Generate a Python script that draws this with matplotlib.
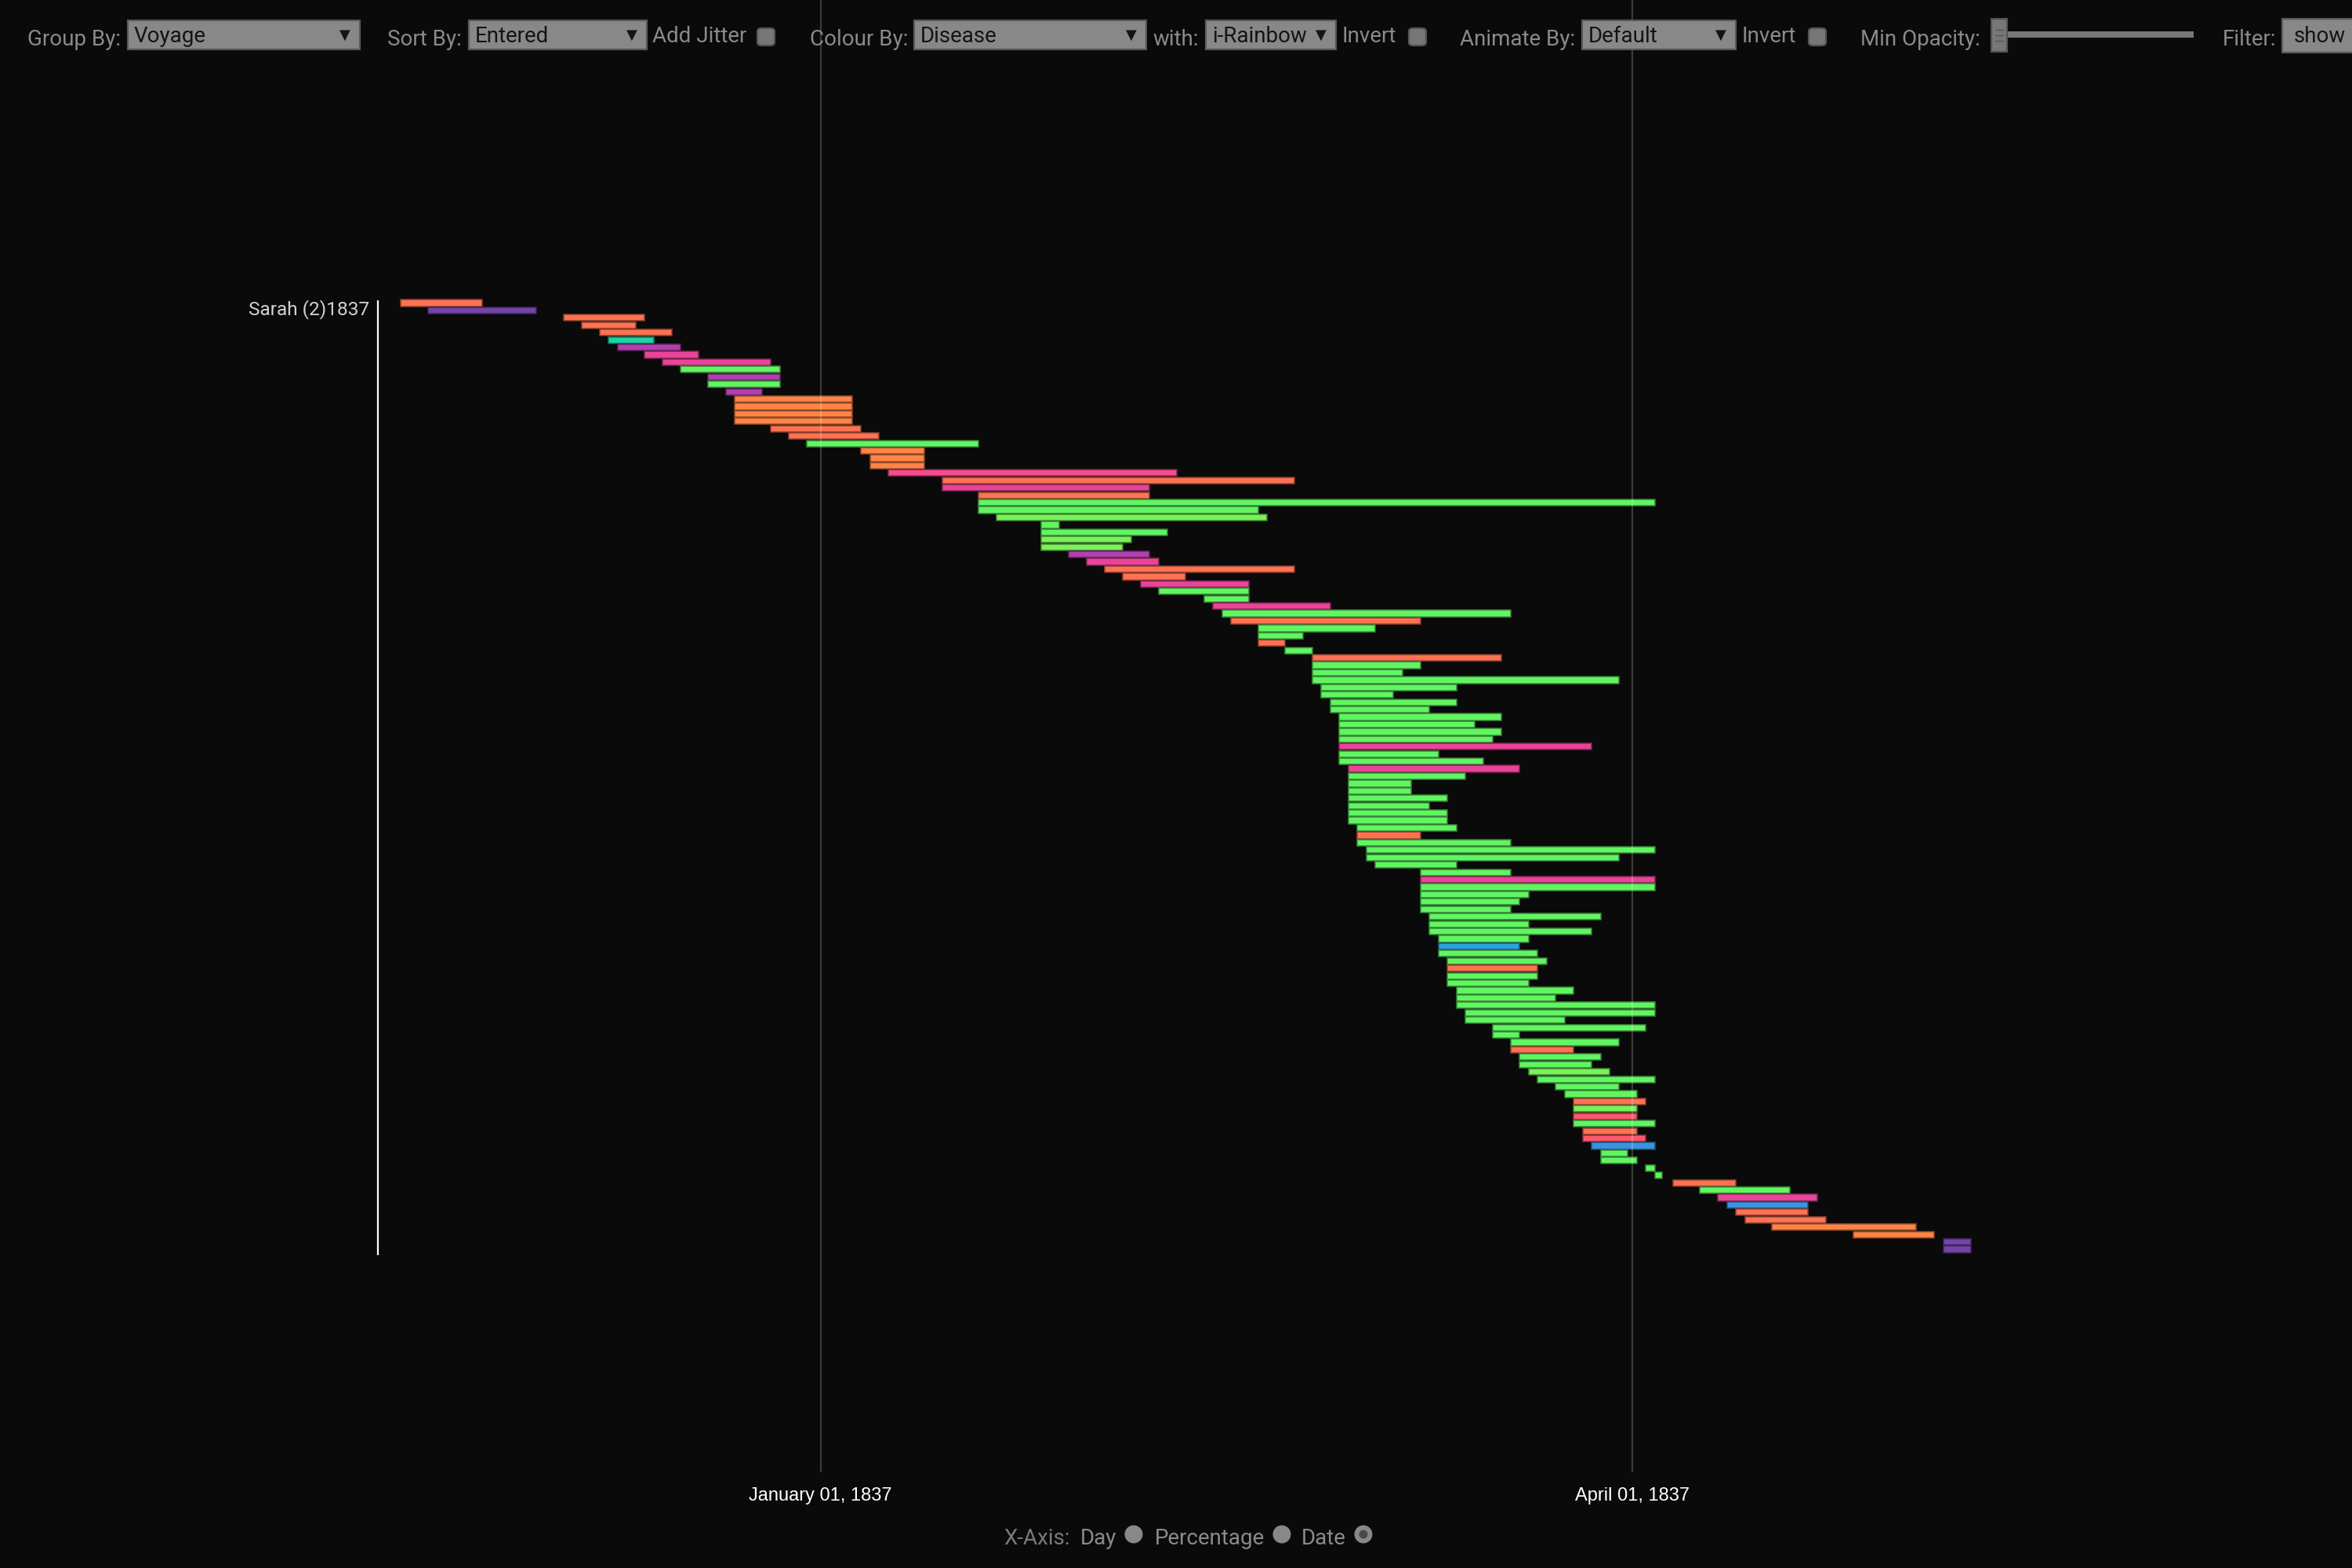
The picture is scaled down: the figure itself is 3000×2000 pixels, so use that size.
import numpy as np
import matplotlib.pyplot as plt
import matplotlib.colors as mcolors
from matplotlib.patches import Rectangle, FancyBboxPatch, Ellipse

# stays on board for voyage "Sarah (2)1837", days counted from 1 January 1837
starts = [-46.5, -43.5, -28.5, -26.5, -24.5, -23.5, -22.5, -19.5, -17.5, -15.5,
          -12.5, -12.5, -10.5, -9.5, -9.5, -9.5, -9.5, -5.5, -3.5, -1.5,
          4.5, 5.5, 5.5, 7.5, 13.5, 13.5, 17.5, 17.5, 17.5, 19.5,
          24.5, 24.5, 24.5, 24.5, 27.5, 29.5, 31.5, 33.5, 35.5, 37.5,
          42.5, 43.5, 44.5, 45.5, 48.5, 48.5, 48.5, 51.5, 54.5, 54.5,
          54.5, 54.5, 55.5, 55.5, 56.5, 56.5, 57.5, 57.5, 57.5, 57.5,
          57.5, 57.5, 57.5, 58.5, 58.5, 58.5, 58.5, 58.5, 58.5, 58.5,
          58.5, 59.5, 59.5, 59.5, 60.5, 60.5, 61.5, 66.5, 66.5, 66.5,
          66.5, 66.5, 66.5, 67.5, 67.5, 67.5, 68.5, 68.5, 68.5, 69.5,
          69.5, 69.5, 69.5, 70.5, 70.5, 70.5, 71.5, 71.5, 74.5, 74.5,
          76.5, 76.5, 77.5, 77.5, 78.5, 79.5, 81.5, 82.5, 83.5, 83.5,
          83.5, 83.5, 84.5, 84.5, 85.5, 86.5, 86.5, 91.5, 92.5, 94.5,
          97.5, 99.5, 100.5, 101.5, 102.5, 105.5, 114.5, 124.5, 124.5]
ends = [-37.5, -31.5, -19.5, -20.5, -16.5, -18.5, -15.5, -13.5, -5.5, -4.5,
        -4.5, -4.5, -6.5, 3.5, 3.5, 3.5, 3.5, 4.5, 6.5, 17.5,
        11.5, 11.5, 11.5, 39.5, 52.5, 36.5, 36.5, 92.5, 48.5, 49.5,
        26.5, 38.5, 34.5, 33.5, 36.5, 37.5, 52.5, 40.5, 47.5, 47.5,
        47.5, 56.5, 76.5, 66.5, 61.5, 53.5, 51.5, 54.5, 75.5, 66.5,
        64.5, 88.5, 70.5, 63.5, 70.5, 67.5, 75.5, 72.5, 75.5, 74.5,
        85.5, 68.5, 73.5, 77.5, 71.5, 65.5, 65.5, 69.5, 67.5, 69.5,
        69.5, 70.5, 66.5, 76.5, 92.5, 88.5, 70.5, 76.5, 92.5, 92.5,
        78.5, 77.5, 76.5, 86.5, 78.5, 85.5, 78.5, 77.5, 79.5, 80.5,
        79.5, 79.5, 78.5, 83.5, 81.5, 92.5, 92.5, 82.5, 91.5, 77.5,
        88.5, 83.5, 86.5, 85.5, 87.5, 92.5, 88.5, 90.5, 91.5, 90.5,
        90.5, 92.5, 90.5, 91.5, 92.5, 89.5, 90.5, 92.5, 93.3, 101.5,
        107.5, 110.5, 109.5, 109.5, 111.5, 121.5, 123.5, 127.5, 127.5]
# disease colour code of each stay
disease = ("TPTTTQMKKGMGMOOOOTTG"
           "OOOHTKTGGLGGLLMKTTKG"
           "GKGTGGTGTGGGGGGGGGGG"
           "KGGKGGGGGGGGTGGGGGKG"
           "GGGGGGGBGGTGGGGGGGGG"
           "GTGGLGGGTLRGTRbGGGGT"
           "GKbTTOOPP")
palette = {'T': '#ff7252', 'O': '#ff8446', 'P': '#7444a8', 'Q': '#1ed3a6',
           'M': '#b03fb0', 'K': '#e84498', 'H': '#f74b8e', 'G': '#62f562',
           'L': '#7af25a', 'B': '#2ca2dc', 'b': '#3a92e0', 'R': '#ff586e'}
voyage = 'Sarah (2)1837'
tick_days = [0, 90]
tick_labels = ['January 01, 1837', 'April 01, 1837']

W, H = 3000, 2000
BG = '#0a0a0a'
fig = plt.figure(figsize=(15, 10), dpi=200, facecolor=BG)

# full-figure axes, scaled so that 1 day ~ 11.5 px and 1 row ~ 9.43 px
day_px, row_px = 11.506, 9.43
x_zero, y_first = 1046.5, 386.5
ax = fig.add_axes([0, 0, 1, 1], facecolor=BG)
ax.set_xlim(-x_zero / day_px, (W - x_zero) / day_px)
ax.set_ylim((H - y_first) / row_px, -y_first / row_px)
ax.axis('off')

rows = np.arange(len(starts))
fills = [palette[c] for c in disease]
edges = [tuple(np.array(mcolors.to_rgb(c)) * 0.55) for c in fills]
ax.barh(rows, np.array(ends) - np.array(starts), left=starts, height=0.87,
        color=fills, edgecolor=edges, linewidth=0.55, zorder=2)

# date grid lines and labels
row_of = lambda py: (py - y_first) / row_px
ax.vlines(tick_days, row_of(0), row_of(1878), color='white', alpha=0.2,
          linewidth=0.8, zorder=3)
for d, lab in zip(tick_days, tick_labels):
    ax.text(d, row_of(1908), lab, color='white', fontsize=8.5,
            family='Liberation Sans', ha='center', va='center')

# voyage group label and bracket line
gx = (482 - x_zero) / day_px
ax.vlines(gx, row_of(383), row_of(1601), color='white', linewidth=0.8)
ax.text((471 - x_zero) / day_px, row_of(395), voyage, color='#d2d2d2',
        fontsize=8.8, family='Roboto', ha='right', va='center')


# ---- control bar (figure pixel coordinates) ----
def fx(x):
    return x / W


def fy(y):
    return 1 - y / H


UI = '#8a8a8a'


def label(x, y, s, color=UI, size=10, ha='left'):
    fig.text(fx(x), fy(y), s, color=color, fontsize=size,
             family=['Roboto', 'DejaVu Sans'], ha=ha, va='center')


def dropdown(x0, x1, s):
    fig.add_artist(Rectangle((fx(x0), fy(63)), fx(x1 - x0), 37 / H,
                             transform=fig.transFigure, facecolor='#888888',
                             edgecolor='#5a5a5a', linewidth=0.8))
    label(x0 + 8, 47, s, color='#141414')
    label(x1 - 19, 45, '▼', color='#141414', size=6.5, ha='center')


def checkbox(x0):
    fig.add_artist(FancyBboxPatch((fx(x0), fy(58)), fx(22), 22 / H,
                                  boxstyle='round,pad=0,rounding_size=0.002',
                                  transform=fig.transFigure,
                                  facecolor='#777777', edgecolor='#555555',
                                  linewidth=0.8))


label(35, 50, 'Group By:')
dropdown(163, 459, 'Voyage')
label(494, 50, 'Sort By:')
dropdown(598, 825, 'Entered')
label(832, 47, 'Add Jitter')
checkbox(966)
label(1033, 50, 'Colour By:')
dropdown(1166, 1462, 'Disease')
label(1470, 50, 'with:')
dropdown(1538, 1704, 'i-Rainbow')
label(1712, 47, 'Invert')
checkbox(1797)
label(1862, 50, 'Animate By:')
dropdown(2018, 2214, 'Default')
label(2222, 47, 'Invert')
checkbox(2307)
label(2373, 50, 'Min Opacity:')
fig.add_artist(Rectangle((fx(2558), fy(48)), fx(240), 8 / H,
                         transform=fig.transFigure, facecolor='#777777',
                         edgecolor='none'))
fig.add_artist(Rectangle((fx(2540), fy(66)), fx(20), 42 / H,
                         transform=fig.transFigure, facecolor='#777777',
                         edgecolor='#555555', linewidth=0.8))
for yy in (38, 45, 52):
    fig.add_artist(plt.Line2D([fx(2545), fx(2555)], [fy(yy), fy(yy)],
                              color='#555555', linewidth=0.5))
label(2835, 50, 'Filter:')
fig.add_artist(Rectangle((fx(2911), fy(67)), fx(100), 43 / H,
                         transform=fig.transFigure, facecolor='#888888',
                         edgecolor='#5a5a5a', linewidth=0.8))
label(2926, 46, 'show', color='#141414')

# ---- x-axis mode selector ----
label(1280, 1962, 'X-Axis:', color='#7a7a7a')
label(1378, 1962, 'Day')
label(1473, 1962, 'Percentage')
label(1660, 1962, 'Date')
for cx in (1446, 1635, 1739):
    fig.add_artist(Ellipse((fx(cx), fy(1957)), 23 / W, 23 / H,
                           transform=fig.transFigure, facecolor='#888888',
                           edgecolor='none'))
fig.add_artist(Ellipse((fx(1739), fy(1957)), 11 / W, 11 / H,
                       transform=fig.transFigure, facecolor='#4a4a4a',
                       edgecolor='none'))

plt.savefig('out.png', dpi=200, facecolor=BG)
